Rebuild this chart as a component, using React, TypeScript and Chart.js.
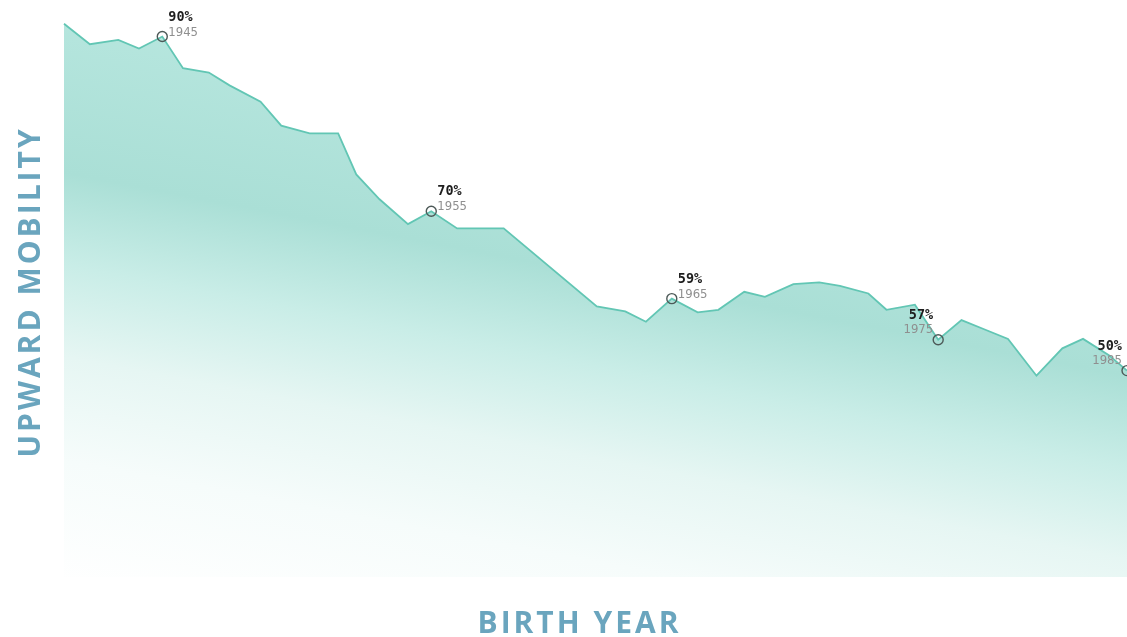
import React, { useEffect, useRef } from "react";
import { Chart, registerables } from "chart.js";

Chart.register(...registerables);

// Birth year (x) and upward mobility (%)
const birthYears = [
  1941.2, 1942.2, 1943.3, 1944.1, 1945.0, 1945.8, 1946.8, 1947.6, 1948.8, 1949.6,
  1950.7, 1951.8, 1952.5, 1953.4, 1954.5, 1955.4, 1956.4, 1958.2, 1961.8, 1962.9,
  1963.7, 1964.7, 1965.7, 1966.5, 1967.5, 1968.3, 1969.4, 1970.4, 1971.2, 1972.3,
  1973.0, 1974.1, 1975.0, 1975.9, 1976.8, 1977.7, 1978.8, 1979.8, 1980.6, 1981.6,
  1982.3,
];
const mobility = [
  91.8, 89.4, 89.9, 88.9, 90.3, 86.6, 86.1, 84.6, 82.7, 79.9,
  79.0, 79.0, 74.2, 71.3, 68.4, 69.9, 67.9, 67.9, 58.8, 58.2,
  57.0, 59.7, 58.1, 58.4, 60.5, 59.9, 61.4, 61.6, 61.2, 60.3,
  58.4, 59.0, 54.9, 57.2, 56.1, 55.0, 50.7, 53.9, 55.0, 53.1,
  51.3,
];

// Highlighted points
const markerIndex = [4, 15, 21, 32, 40];
const markerPercent = ["90%", "70%", "59%", "57%", "50%"];
const markerYear = ["1945", "1955", "1965", "1975", "1985"];

const xTitle = "BIRTH YEAR";
const yTitle = "UPWARD MOBILITY";

const X_MIN = 1941.2;
const X_MAX = 1982.3;
const Y_MIN = 27.2;
const Y_MAX = 93.4;

const TITLE_COLOR = "#6aa5be";
const LINE_COLOR = "#62c6b4";

const markerPlugin = {
  id: "markerLabels",
  afterDatasetsDraw(chart: any) {
    const ctx = chart.ctx;
    const meta = chart.getDatasetMeta(0);
    const area = chart.chartArea;
    ctx.save();
    ctx.letterSpacing = "0px";
    markerIndex.forEach((idx, k) => {
      const pt = meta.data[idx];
      if (!pt) return;
      const cx = pt.x;
      const cy = pt.y;
      const rightSide = cx > area.left + area.width * 0.8;
      ctx.textAlign = rightSide ? "right" : "left";
      ctx.textBaseline = "alphabetic";
      const tx = rightSide ? cx - 5 : cx + 6;
      ctx.fillStyle = "#1e1e1e";
      ctx.font = 'bold 13.5px "DejaVu Sans Mono", monospace';
      ctx.fillText(markerPercent[k], tx, rightSide ? cy - 21 : cy - 16);
      ctx.fillStyle = "#8f8f8f";
      ctx.font = '13px "Liberation Sans Narrow", "DejaVu Sans Condensed", sans-serif';
      ctx.fillText(markerYear[k], tx, rightSide ? cy - 7 : cy - 1);
    });
    ctx.restore();
  },
};

const axisTitlePlugin = {
  id: "axisTitles",
  afterDraw(chart: any) {
    const ctx = chart.ctx;
    const area = chart.chartArea;
    ctx.save();
    ctx.fillStyle = TITLE_COLOR;
    ctx.font = 'bold 30px "Open Sans", sans-serif';
    ctx.letterSpacing = "3px";
    ctx.textAlign = "left";
    ctx.textBaseline = "alphabetic";
    const wx = ctx.measureText(xTitle).width - 3;
    ctx.fillText(xTitle, 578 - wx / 2, chart.height - 4);
    const wy = ctx.measureText(yTitle).width - 3;
    ctx.translate(40, (area.top + area.bottom) / 2);
    ctx.rotate(-Math.PI / 2);
    ctx.fillText(yTitle, -wy / 2, 0);
    ctx.restore();
  },
};

export default function App() {
  const canvasRef = useRef<HTMLCanvasElement | null>(null);

  useEffect(() => {
    const canvas = canvasRef.current;
    if (!canvas) return;
    const points = birthYears.map((x, i) => ({ x, y: mobility[i] }));
    const chart = new Chart(canvas, {
      type: "line",
      data: {
        datasets: [
          {
            data: points,
            borderColor: LINE_COLOR,
            borderWidth: 1.8,
            tension: 0,
            fill: "start",
            backgroundColor: (c: any) => {
              const ch = c.chart;
              const a = ch.chartArea;
              if (!a) return "rgba(160,220,210,0.6)";
              // tilted gradient: darker under the right part of the line, fading down-left
              const sx = a.left + a.width * 0.69;
              const sy = a.top + a.height * 0.25;
              const g = ch.ctx.createLinearGradient(sx, sy, sx - 106, sy + 555);
              g.addColorStop(0, "#b6e6de");
              g.addColorStop(0.28, "#aadfd6");
              g.addColorStop(0.44, "#c9ede7");
              g.addColorStop(0.6, "#e6f6f3");
              g.addColorStop(0.78, "#f6fcfb");
              g.addColorStop(1, "#ffffff");
              return g;
            },
            pointRadius: (c: any) => (markerIndex.includes(c.dataIndex) ? 5 : 0),
            pointHoverRadius: (c: any) => (markerIndex.includes(c.dataIndex) ? 5 : 0),
            pointBorderColor: "#4d5a58",
            pointBackgroundColor: "rgba(0,0,0,0)",
            pointBorderWidth: 1.4,
            clip: false,
          } as any,
        ],
      },
      options: {
        animation: false,
        responsive: true,
        maintainAspectRatio: false,
        layout: { autoPadding: false, padding: { top: 10, right: 0, left: 0, bottom: 0 } },
        plugins: {
          legend: { display: false },
          tooltip: { enabled: false },
          title: { display: false },
        },
        events: [],
        scales: {
          x: {
            type: "linear",
            min: X_MIN,
            max: X_MAX,
            grid: { display: false },
            border: { display: false },
            ticks: { display: false },
            afterFit: (s: any) => {
              s.height = 60;
            },
          },
          y: {
            type: "linear",
            min: Y_MIN,
            max: Y_MAX,
            grid: { display: false },
            border: { display: false },
            ticks: { display: false },
            afterFit: (s: any) => {
              s.width = 64;
            },
          },
        },
      } as any,
      plugins: [markerPlugin, axisTitlePlugin],
    });
    return () => chart.destroy();
  }, []);

  return (
    <div
      style={{
        position: "fixed",
        left: 0,
        top: 0,
        width: 1127,
        height: 637,
        background: "#ffffff",
      }}
    >
      <canvas ref={canvasRef} />
    </div>
  );
}
